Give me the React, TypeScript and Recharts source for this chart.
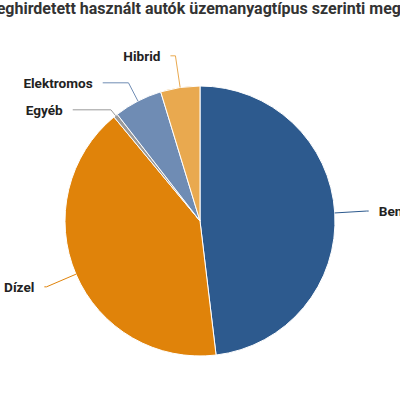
import React from "react";
import { PieChart, Pie, Cell } from "recharts";

const title = "A meghirdetett használt autók üzemanyagtípus szerinti megoszlása";
const fuelTypes = ["Benzin", "Dízel", "Egyéb", "Elektromos", "Hibrid"];
const shares = [48.1, 40.9, 0.5, 5.8, 4.7];
const colors = ["#2d5a8e", "#e0830a", "#9a9a9a", "#6f8cb4", "#e9a94f"];

const data = fuelTypes.map((name, i) => ({ name, value: shares[i] }));

const CX = 200;
const CY = 221;
const RADIUS = 135;

type LabelPos = { theta: number; y: number; side: number };

// highcharts-ish label placement: natural position on a circle, then push apart
function layoutLabels(cx: number, cy: number, r: number): LabelPos[] {
    const total = shares.reduce((a, b) => a + b, 0);
    let acc = 0;
    const pos: LabelPos[] = shares.map((v) => {
        const mid = ((acc + v / 2) / total) * 2 * Math.PI;
        acc += v;
        return { theta: mid, y: cy - (r + 32) * Math.cos(mid), side: Math.sin(mid) >= 0 ? 1 : -1 };
    });
    [1, -1].forEach((side) => {
        const items = pos.filter((p) => p.side === side).sort((a, b) => a.y - b.y);
        for (let i = 1; i < items.length; i++) {
            if (items[i].y - items[i - 1].y < 27) items[i].y = items[i - 1].y + 27;
        }
    });
    return pos;
}

let cached: LabelPos[] | null = null;

const renderLabel = (props: any) => {
    const { cx, cy, outerRadius, index } = props;
    if (!cached) cached = layoutLabels(cx, cy, outerRadius);
    const { theta, y, side } = cached[index];
    const sin = Math.sin(theta);
    const cos = Math.cos(theta);
    const x0 = cx + outerRadius * sin;
    const y0 = cy - outerRadius * cos;
    const far = outerRadius + 34;
    const dy = y - cy;
    let endX = cx + side * Math.sqrt(Math.max(far * far - dy * dy, 0));
    let re = Math.abs(cos) > 0.01 ? (cy - y) / cos : far;
    if (re < outerRadius) re = outerRadius;
    let ex = cx + re * sin;
    let ey = cy - re * cos;
    if ((side > 0 && ex > endX) || (side < 0 && ex < endX)) {
        ex = endX;
        ey = y;
    }
    // keep the short tail near the top instead of a long run
    if (Math.abs(ex - endX) > 5 && Math.abs(sin) < 0.2) endX = ex + side * 5;
    return (
        <g key={`lbl-${index}`}>
            <path
                d={`M${x0},${y0}L${ex},${ey}L${endX},${y}`}
                stroke={colors[index]}
                strokeWidth={1}
                fill="none"
            />
            <text
                x={endX + side * 10}
                y={y}
                textAnchor={side > 0 ? "start" : "end"}
                dominantBaseline="central"
                fill="#222222"
                style={{ fontFamily: "Roboto, sans-serif", fontSize: 13.6, fontWeight: 700 }}
            >
                {fuelTypes[index]}
            </text>
        </g>
    );
};

export default function App() {
    return (
        <div style={{ position: "absolute", left: 0, top: 0, width: 400, height: 400, overflow: "hidden", background: "#fff" }}>
            <div
                style={{
                    position: "absolute",
                    left: 0,
                    top: 0,
                    width: 400,
                    display: "flex",
                    justifyContent: "center",
                    whiteSpace: "nowrap",
                    fontFamily: "Roboto, sans-serif",
                    fontSize: 16,
                    fontWeight: 700,
                    color: "#333333",
                    lineHeight: "18px",
                    transform: "translateX(12px)",
                }}
            >
                <span>{title}</span>
            </div>
            <PieChart width={400} height={400} margin={{ top: 0, right: 0, bottom: 0, left: 0 }}>
                <Pie
                    data={data}
                    dataKey="value"
                    nameKey="name"
                    cx={CX}
                    cy={CY}
                    outerRadius={RADIUS}
                    startAngle={90}
                    endAngle={-270}
                    stroke="#ffffff"
                    strokeWidth={1}
                    label={renderLabel}
                    labelLine={false}
                    isAnimationActive={false}
                >
                    {data.map((d, i) => (
                        <Cell key={d.name} fill={colors[i]} />
                    ))}
                </Pie>
            </PieChart>
        </div>
    );
}
